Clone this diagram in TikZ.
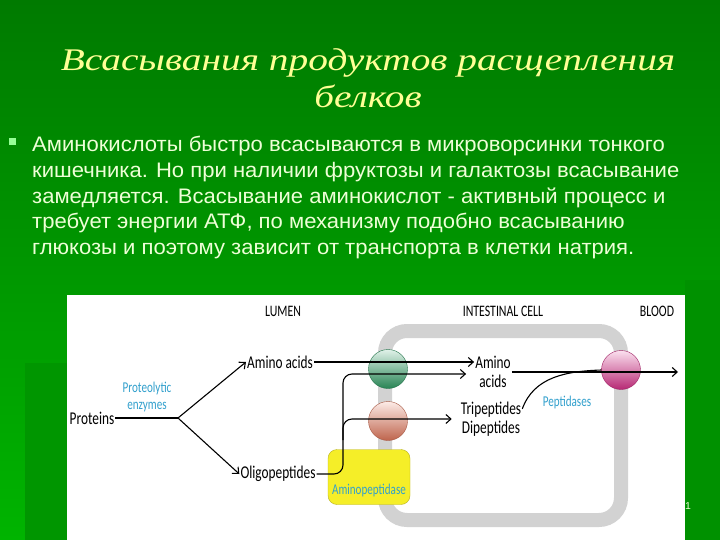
\documentclass[tikz,border=0pt]{standalone}
\usepackage{fontspec}
\usetikzlibrary{arrows.meta}
\setmainfont[FakeStretch=1.05]{Liberation Sans}
\newfontfamily\titlefont[FakeStretch=1.25]{Liberation Serif}
\newfontfamily\labelfont[FakeStretch=0.74]{Carlito}
\definecolor{bgtop}{RGB}{0,122,0}
\definecolor{bgbot}{RGB}{0,180,0}
\definecolor{bgdark}{RGB}{0,150,0}
\definecolor{bgright}{RGB}{0,145,0}
\definecolor{titlecol}{RGB}{255,255,150}
\definecolor{textcol}{RGB}{238,255,215}
\definecolor{bulletcol}{RGB}{150,255,150}
\definecolor{cellgray}{RGB}{210,210,210}
\definecolor{enzblue}{RGB}{50,160,205}
\definecolor{carriergreen}{RGB}{50,165,105}
\definecolor{carrierred}{RGB}{238,125,95}
\definecolor{carrierpink}{RGB}{228,50,145}
\definecolor{ampyellow}{RGB}{245,238,40}
\begin{document}
\begin{tikzpicture}[x=1pt,y=-1pt,
  >={Straight Barb[length=5pt,width=9pt]},
  lbl/.style={font=\labelfont\fontsize{18}{18.5}\selectfont, align=center, inner sep=1pt},
  enz/.style={font=\labelfont\fontsize{15}{17}\selectfont, text=enzblue, align=center, inner sep=1pt},
  zone/.style={font=\labelfont\fontsize{16}{17}\selectfont, inner sep=0pt},
  carrier/.style={circle, minimum size=39pt, inner sep=0pt, top color=#1!15!white, middle color=#1!85!white, bottom color=#1!80!black, draw=#1!70!black, thin},
  flow/.style={line width=1.1pt, black}]
\useasboundingbox (0,0) rectangle (720,540);
\shade[top color=bgtop, bottom color=bgbot] (0,0) rectangle (720,540);
\fill[bgdark] (25,363) rectangle (67,540);
\fill[bgright] (685,280) rectangle (720,540);

\node[font=\titlefont\itshape\fontsize{31.5}{37}\selectfont, text=titlecol, align=center] (title) at (368,78) {Всасывания продуктов расщепления\\белков};
\fill[bulletcol] (9,138) rectangle (16,145);
\node[font=\fontsize{21}{25.7}\selectfont, text=textcol, align=left, anchor=north west, inner sep=0pt] (body) at (32,136)
  {Аминокислоты быстро всасываются в микроворсинки тонкого\\
   кишечника. Но при наличии фруктозы и галактозы всасывание\\
   замедляется. Всасывание аминокислот - активный процесс и\\
   требует энергии АТФ, по механизму подобно всасыванию\\
   глюкозы и поэтому зависит от транспорта в клетки натрия.};
\node[text=textcol, font=\fontsize{10}{10}\selectfont] (slideno) at (688,506) {1};

\fill[white] (67,295) rectangle (685,540);
\draw[cellgray, line width=14pt, rounded corners=22pt] (385,331) rectangle (621,520);

\node[zone] (lumen) at (283,311) {LUMEN};
\node[zone] (cell) at (503,311) {INTESTINAL CELL};
\node[zone] (blood) at (657,311) {BLOOD};

\node[carrier=carriergreen] (aat) at (388,369) {};
\node[carrier=carrierred] (pt) at (388,421) {};
\node[carrier=carrierpink] (bas) at (621,370) {};
\node[draw=ampyellow!75!black, fill=ampyellow, rounded corners=9pt, minimum width=82pt, minimum height=55pt] (amp) at (369,477) {};
\node[enz] (amptext) at (369,490) {Aminopeptidase};

\node[lbl] (prot) at (92,418) {Proteins};
\node[enz] (enzy) at (147,397) {Proteolytic\\enzymes};
\node[lbl] (aa1) at (280,362) {Amino acids};
\node[lbl] (olig) at (278,474) {Oligopeptides};
\node[lbl] (aa2) at (493,372) {Amino\\acids};
\node[lbl] (tri) at (491,419) {Tripeptides\\Dipeptides};
\node[enz] (pepd) at (567,402) {Peptidases};
\coordinate (fork) at (178,418);
\coordinate (bloodend) at (678,370);

\draw[flow] (prot) -- (fork);
\draw[flow,->] (fork) -- (aa1.west);
\draw[flow,->] (fork) -- (olig.west);
\draw[flow,->] (aa1.east) -- (aa1.east -| aa2.west);
\draw[flow,->,rounded corners=9pt] (olig.east) -| (343,400) |- ([yshift=-2pt,xshift=-8pt]aa2.west);
\draw[flow,->,rounded corners=9pt] (343,440) |- ([xshift=-8pt]tri.west);
\draw[flow,->] (aa2.east) -- (aa2.east -| bloodend);
\draw[flow] ([yshift=-8pt]tri.north east) to[out=70,in=182] (bas.west);
\end{tikzpicture}
\end{document}
